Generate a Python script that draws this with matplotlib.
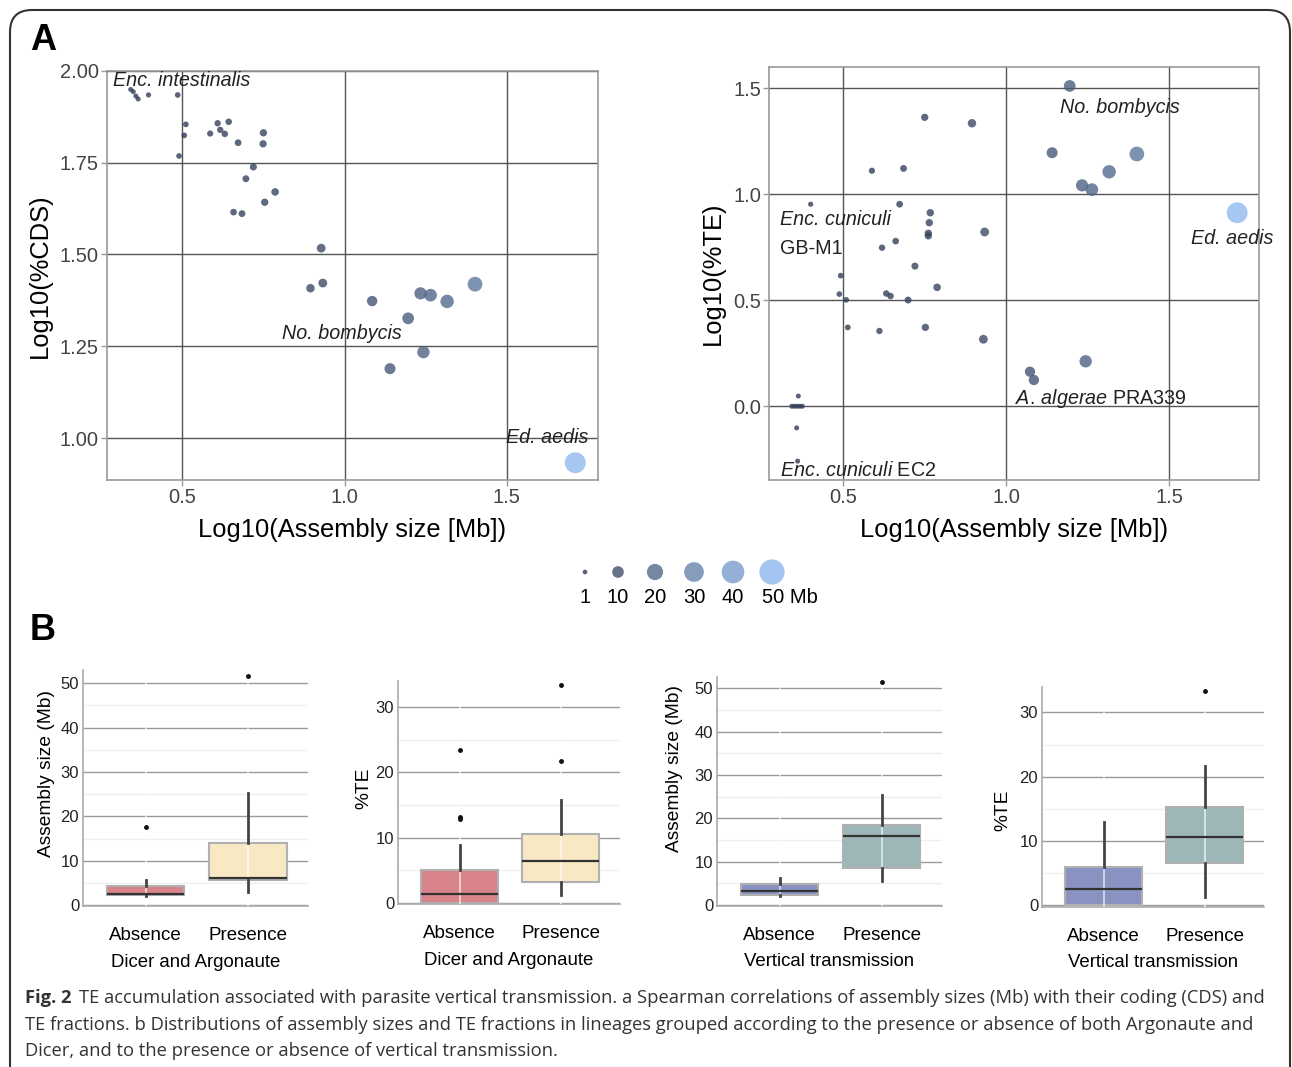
import numpy as np
import matplotlib.pyplot as plt
from matplotlib.colors import LinearSegmentedColormap, Normalize
from matplotlib.patches import FancyBboxPatch
from matplotlib.transforms import IdentityTransform

plt.rcParams['font.family'] = ['Liberation Sans', 'DejaVu Sans']
plt.rcParams['mathtext.fontset'] = 'custom'
plt.rcParams['mathtext.it'] = 'Liberation Sans:italic'
plt.rcParams['mathtext.rm'] = 'Liberation Sans'

# ---- panel A data: log10(assembly size) vs log10(%CDS) / log10(%TE)
cds_x = [0.341, 0.349, 0.357, 0.364, 0.396, 0.486, 0.511, 0.506, 0.490, 0.586,
         0.609, 0.617, 0.631, 0.643, 0.672, 0.750, 0.749, 0.719, 0.696, 0.786,
         0.754, 0.658, 0.684, 0.928, 0.933, 0.895, 1.085, 1.234, 1.265, 1.316,
         1.402, 1.196, 1.243, 1.140, 1.711]
cds_y = [1.949, 1.943, 1.931, 1.923, 1.934, 1.934, 1.854, 1.824, 1.768, 1.829,
         1.857, 1.839, 1.828, 1.861, 1.804, 1.831, 1.801, 1.738, 1.706, 1.670,
         1.642, 1.615, 1.611, 1.517, 1.422, 1.408, 1.373, 1.394, 1.389, 1.372,
         1.419, 1.326, 1.234, 1.189, 0.933]

te_x = [1.195, 0.750, 0.895, 1.141, 1.401, 1.316, 1.233, 1.263, 0.588, 0.685,
        0.400, 0.673, 0.767, 0.764, 0.761, 0.761, 0.934, 0.661, 0.619, 0.720,
        0.492, 0.788, 0.488, 0.509, 0.632, 0.645, 0.699, 0.514, 0.611, 0.752,
        0.930, 1.244, 1.073, 1.085, 1.709, 0.362, 0.342, 0.350, 0.358, 0.366,
        0.374, 0.357, 0.360]
te_y = [1.511, 1.363, 1.335, 1.196, 1.190, 1.106, 1.042, 1.022, 1.111, 1.122,
        0.953, 0.953, 0.913, 0.866, 0.816, 0.804, 0.822, 0.779, 0.748, 0.661,
        0.616, 0.561, 0.529, 0.502, 0.532, 0.520, 0.501, 0.372, 0.355, 0.372,
        0.316, 0.212, 0.163, 0.124, 0.913, 0.048, 0.0, 0.0, 0.0, 0.0,
        0.0, -0.102, -0.259]

legend_mb = [1, 10, 20, 30, 40, 50]

# ---- panel B data: box statistics
groups = ['Absence', 'Presence']
da_size = dict(q1=[2.3, 5.6], med=[2.45, 6.1], q3=[4.3, 13.9], lo=[2.0, 3.0], hi=[5.6, 25.2],
               fl=[[17.6], [51.5]])
da_te = dict(q1=[0.0, 3.2], med=[1.35, 6.5], q3=[5.0, 10.5], lo=[0.0, 1.2], hi=[8.9, 15.8],
             fl=[[12.8, 13.2, 23.4], [21.7, 33.4]])
vt_size = dict(q1=[2.2, 8.5], med=[3.3, 15.8], q3=[4.8, 18.4], lo=[2.0, 5.4], hi=[6.1, 25.3],
               fl=[[], [51.4]])
vt_te = dict(q1=[0.0, 6.6], med=[2.5, 10.6], q3=[6.0, 15.3], lo=[0.0, 1.3], hi=[13.0, 21.7],
             fl=[[], [33.3]])

W, H = 1292, 1067
fig = plt.figure(figsize=(W / 100, H / 100), dpi=100)


def box(l, t, r, b):
    return [l / W, 1 - b / H, (r - l) / W, (b - t) / H]


cmap = LinearSegmentedColormap.from_list('sz', ['#2e3850', '#91baf1'])
norm = Normalize(1, 51)


def msize(mb):
    mb = np.asarray(mb, dtype=float)
    return 0.5184 * (6 + 8.4 * mb)


def scatter_panel(ax, x, y):
    mb = 10 ** np.asarray(x)
    ax.scatter(x, y, s=msize(mb), c=mb, cmap=cmap, norm=norm, alpha=0.8,
               edgecolors='none', zorder=3)
    ax.grid(True, color='#555555', lw=1.0)
    ax.set_axisbelow(True)
    for sp in ax.spines.values():
        sp.set_color('#999999')
        sp.set_linewidth(1.2)
    ax.tick_params(colors='#999999', labelcolor='#444444', labelsize=14.5, length=4, width=1,
                   pad=2)
    ax.set_xticks([0.5, 1.0, 1.5])
    ax.set_xticklabels(['0.5', '1.0', '1.5'])
    ax.set_xlabel('Log10(Assembly size [Mb])', fontsize=18.4, labelpad=8)


ital = dict(fontsize=14.2, family='Liberation Sans', style='italic', color='#222222', zorder=5)
plain = dict(fontsize=14.2, family='Liberation Sans', color='#222222', zorder=5)

# A left
ax1 = fig.add_axes(box(107.3, 70.7, 597.7, 480))
scatter_panel(ax1, cds_x, cds_y)
ax1.set_xlim(0.269, 1.780)
ax1.set_ylim(0.886, 2.0)
ax1.set_yticks([1.0, 1.25, 1.5, 1.75, 2.0])
ax1.set_yticklabels(['1.00', '1.25', '1.50', '1.75', '2.00'])
ax1.set_ylabel('Log10(%CDS)', fontsize=18.4, labelpad=6)
ax1.text(0.286, 1.972, 'Enc. intestinalis', va='center', ha='left', **ital)
ax1.text(0.992, 1.285, 'No. bombycis', va='center', ha='center', **ital)
ax1.text(1.751, 1.002, 'Ed. aedis', va='center', ha='right', **ital)

# A right
ax2 = fig.add_axes(box(769.3, 67.3, 1259, 480))
scatter_panel(ax2, te_x, te_y)
ax2.set_xlim(0.273, 1.776)
ax2.set_ylim(-0.348, 1.599)
ax2.set_yticks([0.0, 0.5, 1.0, 1.5])
ax2.set_yticklabels(['0.0', '0.5', '1.0', '1.5'])
ax2.set_ylabel('Log10(%TE)', fontsize=18.4, labelpad=6)
ax2.text(1.350, 1.407, 'No. bombycis', va='center', ha='center', **ital)
ax2.text(0.306, 0.883, 'Enc. cuniculi', va='center', ha='left', **ital)
ax2.text(0.306, 0.746, 'GB-M1', va='center', ha='left', **plain)
ax2.text(1.567, 0.793, 'Ed. aedis', va='center', ha='left', clip_on=False, **ital)
ax2.text(1.027, 0.038, r'$\it{A.\/algerae}$ PRA339', va='center', ha='left', **plain)
ax2.text(0.306, -0.301, r'$\it{Enc.\/cuniculi}$ EC2', va='center', ha='left', **plain)

# size legend
axl = fig.add_axes(box(565, 555, 810, 615))
axl.set_xlim(565, 810)
axl.set_ylim(615, 555)
axl.axis('off')
leg_x = 585 + np.array([0, 33, 70, 109, 148, 187])
axl.scatter(leg_x, [572] * 6, s=msize(legend_mb) * 1.5, c=legend_mb, cmap=cmap, norm=norm,
            alpha=0.8, edgecolors='none')
for xx, mb in zip(leg_x, legend_mb):
    if mb == 50:
        axl.text(xx - 10, 598, '50 Mb', ha='left', va='center', fontsize=14.5)
    else:
        axl.text(xx, 598, str(mb), ha='center', va='center', fontsize=14.5)


# ---- panel B
def box_panel(rect, st, colors, ymax, ticks, ylabel, xlabel, label_y, label_pad):
    ax = fig.add_axes(rect)
    stats = []
    for i in range(2):
        stats.append(dict(q1=st['q1'][i], med=st['med'][i], q3=st['q3'][i],
                          whislo=st['lo'][i], whishi=st['hi'][i], fliers=st['fl'][i]))
    bp = ax.bxp(stats, positions=[0, 1], widths=0.76, patch_artist=True, showcaps=False,
                boxprops=dict(edgecolor='#b0b0b0', linewidth=1.5),
                medianprops=dict(color='#333333', linewidth=1.6, zorder=6),
                whiskerprops=dict(color='#444444', linewidth=2, zorder=6),
                flierprops=dict(marker='o', markersize=2.5, markerfacecolor='#111111',
                                markeredgecolor='#111111', zorder=6))
    for p, c in zip(bp['boxes'], colors):
        p.set_facecolor(c)
        p.set_zorder(2)
    ax.set_xlim(-0.61, 1.59)
    ax.set_yticks(ticks)
    step = ticks[1] - ticks[0]
    minor = [t + step / 2 for t in ticks if t + step / 2 < ymax]
    ax.set_yticks(minor, minor=True)
    ax.set_ylim(-0.2, ymax)
    ax.grid(True, axis='y', which='major', color='#9a9a9a', lw=1.0)
    ax.grid(True, axis='y', which='minor', color='#efefef', lw=1.0)
    ax.set_axisbelow(True)
    for xx in [0, 1]:
        ax.axvline(xx, color='white', lw=1.2, alpha=0.7, zorder=4)
    for s in ['top', 'right']:
        ax.spines[s].set_visible(False)
    for s in ['left', 'bottom']:
        ax.spines[s].set_color('#aaaaaa')
        ax.spines[s].set_linewidth(1.2)
    ax.tick_params(axis='y', length=0, pad=3, labelsize=12, labelcolor='#222222')
    ax.tick_params(axis='y', which='minor', length=0)
    ax.tick_params(axis='x', length=0, pad=15, labelsize=13.5)
    ax.set_xticks([0, 1])
    ax.set_xticklabels(groups)
    ax.set_ylabel(ylabel, fontsize=13.8, labelpad=label_pad)
    ax.yaxis.label.set_y(label_y)
    ax.set_xlabel(xlabel, fontsize=13.4, labelpad=7)
    return ax


da_cols = ['#d9848a', '#f8e8c4']
vt_cols = ['#8a92c2', '#9db7b8']
box_panel(box(83.3, 906 - 53.2 * 4.44, 308, 906), da_size, da_cols, 53,
          [0, 10, 20, 30, 40, 50], 'Assembly size (Mb)', 'Dicer and Argonaute', 0.56, 4)
box_panel(box(398.3, 904.3 - 34.2 * 6.53, 620, 904.3), da_te, da_cols, 34,
          [0, 10, 20, 30], '%TE', 'Dicer and Argonaute', 0.52, 2)
box_panel(box(717.3, 905.7 - 52.7 * 4.333, 941.7, 905.7), vt_size, vt_cols, 52.5,
          [0, 10, 20, 30, 40, 50], 'Assembly size (Mb)', 'Vertical transmission', 0.6, 8)
box_panel(box(1042.3, 906.7 - 34.2 * 6.433, 1264, 906.7), vt_te, vt_cols, 34,
          [0, 10, 20, 30], '%TE', 'Vertical transmission', 0.44, 6)

# panel letters
fig.text(30 / W, 1 - 40 / H, 'A', fontsize=26, fontweight='bold', va='center', ha='left')
fig.text(30 / W, 1 - 630 / H, 'B', fontsize=26, fontweight='bold', va='center', ha='left')

# caption
cap = dict(family=['Open Sans', 'DejaVu Sans'], fontsize=13.2, color='#333333', va='baseline')
fig.text(25 / W, 1 - 1003 / H, 'Fig. 2', fontweight='bold', **cap)
fig.text(79 / W, 1 - 1003 / H, 'TE accumulation associated with parasite vertical transmission. '
         'a Spearman correlations of assembly sizes (Mb) with their coding (CDS) and', **cap)
fig.text(25 / W, 1 - 1030 / H, 'TE fractions. b Distributions of assembly sizes and TE fractions '
         'in lineages grouped according to the presence or absence of both Argonaute and', **cap)
fig.text(25 / W, 1 - 1056 / H, 'Dicer, and to the presence or absence of vertical transmission.',
         **cap)

# rounded border
fig.patches.append(FancyBboxPatch((10, -30), 1280, 1087, boxstyle='round,pad=0,rounding_size=22',
                                  transform=IdentityTransform(), facecolor='none',
                                  edgecolor='#333333', lw=1.5, figure=fig))

fig.savefig('out.png', dpi=100)
